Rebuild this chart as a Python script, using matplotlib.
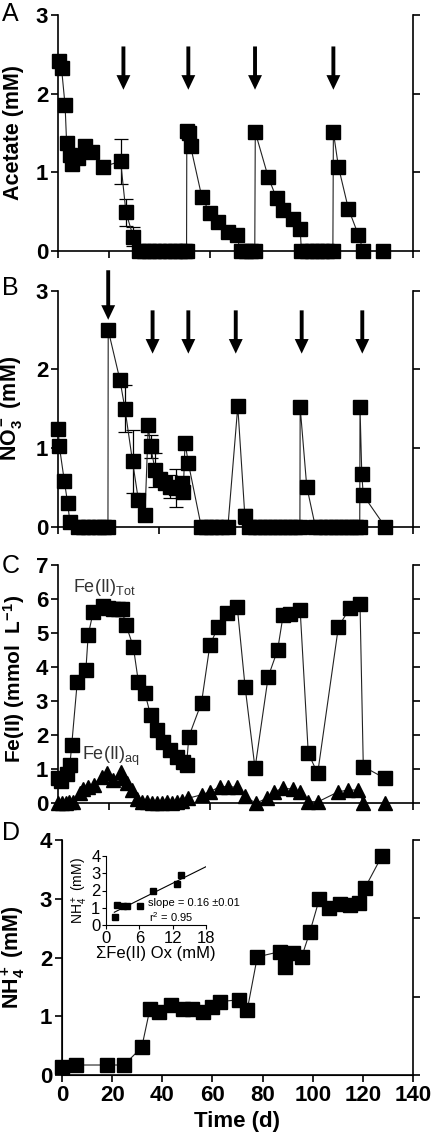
import matplotlib
matplotlib.use('Agg')
import matplotlib.pyplot as plt
import numpy as np

plt.rcParams['font.family'] = ['Liberation Sans', 'DejaVu Sans']
plt.rcParams['mathtext.fontset'] = 'custom'
plt.rcParams['mathtext.rm'] = 'Liberation Sans'
plt.rcParams['mathtext.it'] = 'Liberation Sans:italic'
plt.rcParams['mathtext.bf'] = 'Liberation Sans:bold'
plt.rcParams['mathtext.default'] = 'regular'

# ---------------- data ----------------
# A: acetate
acetate_t = [0.5, 1.4, 2.8, 3.4, 4.7, 5.4, 8.0, 10.6, 13.3, 17.6, 24.7, 26.8, 29.7,
             32.0, 34.0, 36.0, 38.0, 40.0, 42.0, 44.0, 46.0, 48.0, 50.0, 50.7,
             50.8, 51.5, 52.3, 56.7, 59.9, 63.2, 67.2, 70.4,
             72.0, 74.0, 76.0, 77.6, 77.8, 82.9, 86.2, 88.8, 92.8, 95.5,
             96.0, 98.0, 100.0, 102.0, 104.0, 106.0, 108.4, 108.6, 110.6, 114.5, 118.5,
             120.4, 128.3]
acetate_v = [2.41, 2.32, 1.85, 1.37, 1.22, 1.10, 1.18, 1.33, 1.26, 1.07, 1.14, 0.49, 0.18,
             0, 0, 0, 0, 0, 0, 0, 0, 0, 0, 0,
             1.52, 1.50, 1.33, 0.69, 0.48, 0.37, 0.24, 0.20,
             0, 0, 0, 0, 1.51, 0.94, 0.67, 0.52, 0.41, 0.28,
             0, 0, 0, 0, 0, 0, 0, 1.51, 1.07, 0.54, 0.20,
             0, 0]
acetate_err_t = [24.7, 26.8, 29.7]
acetate_err_v = [1.14, 0.49, 0.18]
acetate_err = [0.29, 0.17, 0.12]
acetate_arrow_t = [25.8, 51.4, 77.7, 108.6]
acetate_arrow_top = [2.60, 2.60, 2.60, 2.60]
acetate_arrow_tip = [2.05, 2.05, 2.05, 2.05]

# B: nitrate
nitrate_t = [0.1, 0.5, 2.5, 3.8, 4.7, 8.0, 10.0, 12.0, 14.0, 16.0, 18.0, 19.7, 19.8,
             24.4, 26.4, 29.4, 31.7, 34.3, 35.6, 36.5, 38.3, 40.2, 42.2, 44.2, 46.6,
             48.8, 49.4, 50.1, 51.4, 56.5, 58.5, 60.5, 62.5, 64.5, 67.0, 70.9, 73.7,
             75.5, 77.5, 79.5, 81.5, 83.5, 85.5, 87.5, 89.5, 91.5, 93.5, 95.4, 95.5,
             98.1, 101.5, 103.5, 105.5, 107.5, 109.5, 111.5, 113.5, 115.5, 117.5, 119.0,
             119.1, 119.8, 120.4, 129.0]
nitrate_v = [1.24, 1.03, 0.58, 0.30, 0.06, 0, 0, 0, 0, 0, 0, 0, 2.50,
             1.87, 1.50, 0.83, 0.34, 0.15, 1.29, 1.02, 0.72, 0.61, 0.55, 0.51, 0.49,
             0.55, 0.44, 1.07, 0.81, 0, 0, 0, 0, 0, 0, 1.53, 0.13,
             0, 0, 0, 0, 0, 0, 0, 0, 0, 0, 0, 1.52,
             0.51, 0, 0, 0, 0, 0, 0, 0, 0, 0, 0,
             1.52, 0.67, 0.40, 0]
nitrate_err_t = [26.4, 29.4, 36.5, 38.3, 44.2, 46.6, 73.7]
nitrate_err_v = [1.50, 0.83, 1.02, 0.72, 0.51, 0.49, 0.13]
nitrate_err = [0.30, 0.40, 0.15, 0.22, 0.15, 0.24, 0.09]
nitrate_arrow_t = [19.8, 37.3, 51.4, 70.1, 96.1, 120.0]
nitrate_arrow_top = [3.26, 2.75, 2.75, 2.75, 2.75, 2.75]
nitrate_arrow_tip = [2.63, 2.20, 2.20, 2.20, 2.20, 2.20]

# C: Fe(II)
fetot_t = [0.1, 1.0, 3.4, 4.7, 5.4, 7.6, 11.0, 11.9, 13.9, 17.9, 19.9, 21.8, 23.5, 25.1,
           26.8, 29.7, 31.7, 34.3, 36.5, 38.9, 41.5, 44.2, 46.8, 49.4, 50.7, 51.6,
           56.6, 59.9, 63.2, 66.5, 70.7, 73.8, 77.7, 82.9, 86.6, 88.8, 91.5, 95.5,
           98.7, 102.4, 110.6, 115.1, 119.1, 120.4, 129.0]
fetot_v = [0.73, 0.65, 0.85, 1.13, 1.71, 3.57, 3.92, 4.94, 5.63, 5.80, 5.75, 5.70, 5.72, 5.70,
           5.24, 4.60, 3.57, 3.23, 2.59, 2.15, 1.81, 1.57, 1.37, 1.22, 1.13, 1.96,
           2.96, 4.65, 5.19, 5.58, 5.76, 3.41, 1.03, 3.72, 4.50, 5.53, 5.55, 5.68,
           1.47, 0.88, 5.19, 5.73, 5.85, 1.08, 0.73]
feaq_t = [0.0, 1.5, 3.0, 4.5, 6.0, 8.5, 10.0, 11.9, 14.0, 17.2, 19.2, 21.8, 24.7, 25.5,
          27.1, 29.0, 31.0, 33.0, 35.0, 37.0, 39.0, 41.0, 43.0, 45.0, 47.0, 49.0, 51.4,
          56.6, 59.9, 63.9, 67.2, 70.7, 73.8, 78.1, 82.3, 85.2, 88.6, 92.5, 95.5, 98.7,
          102.7, 110.6, 114.5, 118.5, 120.4, 129.0]
feaq_v = [0.0, 0.02, 0.02, 0.05, 0.05, 0.30, 0.42, 0.49, 0.55, 0.78, 0.88, 0.69, 0.92, 0.75,
          0.59, 0.39, 0.12, 0.05, 0.05, 0.0, 0.02, 0.02, 0.05, 0.02, 0.05, 0.08, 0.15,
          0.25, 0.34, 0.49, 0.49, 0.47, 0.20, 0.0, 0.15, 0.34, 0.44, 0.42, 0.34, 0.05,
          0.05, 0.34, 0.39, 0.39, 0.0, 0.0]

# D: ammonium
nh4_t = [0.0, 5.6, 17.8, 24.7, 31.8, 35.1, 38.8, 43.4, 48.4, 51.7, 56.1, 59.7, 63.0,
         70.7, 73.9, 77.9, 86.9, 88.9, 92.2, 95.6, 98.9, 102.6, 106.6, 110.9, 114.9,
         118.6, 120.9, 127.5]
nh4_v = [0.13, 0.17, 0.17, 0.17, 0.47, 1.13, 1.08, 1.19, 1.13, 1.13, 1.07, 1.16, 1.25,
         1.28, 1.11, 2.01, 2.10, 1.84, 2.07, 2.01, 2.44, 2.99, 2.84, 2.91, 2.89,
         2.92, 3.19, 3.72]

# D inset: NH4+ vs cumulative Fe(II) oxidized
inset_fe = [1.6, 2.0, 3.1, 3.7, 6.2, 8.5, 12.8, 13.5]
inset_nh4 = [0.47, 1.14, 1.10, 1.12, 1.12, 1.96, 2.38, 2.91]
fit_slope = 0.16
fit_intercept = 0.50
fit_range = [1.5, 18.0]

W, H = 433, 1139
fig = plt.figure(figsize=(W / 100, H / 100), dpi=100)


def px_axes(left, top, right, bottom):
    return fig.add_axes([left / W, 1 - bottom / H, (right - left) / W, (bottom - top) / H])


def style(ax, yticks, xticks, right=True):
    ax.spines['top'].set_visible(False)
    for s in ['left', 'bottom', 'right']:
        ax.spines[s].set_linewidth(1.2)
    ax.spines['right'].set_visible(right)
    ax.tick_params(direction='out', length=5, width=1.2, right=right,
                   labelsize=16, pad=2)
    ax.set_yticks(yticks)
    ax.set_xticks(xticks)
    for lab in ax.get_yticklabels() + ax.get_xticklabels():
        lab.set_fontweight('bold')


line_kw = dict(color='#222222', lw=0.8, marker='s', ms=9.5, mfc='black', mec='black',
               clip_on=False, zorder=3)
err_kw = dict(fmt='none', ecolor='black', elinewidth=0.9, capsize=5, capthick=0.9,
              clip_on=False, zorder=2)
arrow_kw = dict(width=2.8, headwidth=10, headlength=10.5, facecolor='black',
                edgecolor='black', lw=0, clip_on=False)


def draw_arrows(ax, ts, tops, tips):
    for t, top, tip in zip(ts, tops, tips):
        ax.annotate('', xy=(t, tip), xytext=(t, top), arrowprops=arrow_kw,
                    annotation_clip=False)


# ---------- A ----------
axA = px_axes(58, 15, 413, 251)
axA.plot(acetate_t, acetate_v, **line_kw)
axA.errorbar(acetate_err_t, acetate_err_v, yerr=acetate_err, **err_kw)
draw_arrows(axA, acetate_arrow_t, acetate_arrow_top, acetate_arrow_tip)
axA.set_xlim(0, 140)
axA.set_ylim(0, 3)
style(axA, [0, 1, 2, 3], [0, 20, 60, 140])
axA.set_xticklabels([])
axA.set_ylabel('Acetate (mM)', fontsize=15.5, fontweight='bold')
axA.yaxis.set_label_coords(-0.095, 0.5)

# ---------- B ----------
axB = px_axes(58, 290.7, 413, 526.7)
axB.plot(nitrate_t, nitrate_v, **line_kw)
axB.errorbar(nitrate_err_t, nitrate_err_v, yerr=nitrate_err, **err_kw)
draw_arrows(axB, nitrate_arrow_t, nitrate_arrow_top, nitrate_arrow_tip)
axB.set_xlim(0, 140)
axB.set_ylim(0, 3)
style(axB, [0, 1, 2, 3], [0, 40, 140])
axB.set_xticklabels([])
axB.set_ylabel('NO$_3^-$ (mM)', fontsize=15.5, fontweight='bold')
axB.yaxis.set_label_coords(-0.095, 0.5)

# ---------- C ----------
axC = px_axes(58, 565, 413, 803.3)
axC.plot(fetot_t, fetot_v, **line_kw)
tri_kw = dict(line_kw)
tri_kw['marker'] = '^'
tri_kw['ms'] = 10
axC.plot(feaq_t, feaq_v, **tri_kw)
axC.set_xlim(0, 140)
axC.set_ylim(0, 7)
style(axC, list(range(8)), [0, 20, 60, 140])
axC.set_xticklabels([])
axC.set_ylabel('Fe(II) (mmol  L$^{-1}$)', fontsize=15, fontweight='bold')
axC.yaxis.set_label_coords(-0.088, 0.52)
axC.text(5.9, 6.2, r'Fe(II)$_{Tot}$', fontsize=13, color='#333333')
axC.text(9.5, 1.27, r'Fe(II)$_{aq}$', fontsize=13, color='#333333')

# ---------- D ----------
axD = px_axes(62, 840, 413, 1075)
axD.plot(nh4_t, nh4_v, **line_kw)
axD.set_xlim(0, 140)
axD.set_ylim(0, 4)
style(axD, [0, 1, 2, 3, 4], list(range(0, 141, 20)), right=False)
axD.set_ylabel('NH$_4^+$ (mM)', fontsize=15.5, fontweight='bold')
axD.yaxis.set_label_coords(-0.10, 0.5)
axD.set_xlabel('Time (d)', fontsize=16, fontweight='bold', labelpad=4)
twin = axD.twinx()
twin.set_ylim(0, 3)
twin.set_yticks([0, 1, 2, 3])
twin.set_yticklabels([])
twin.spines['top'].set_visible(False)
twin.spines['right'].set_linewidth(1.2)
twin.tick_params(direction='out', length=5, width=1.2)

# inset
ins = px_axes(106, 856, 206, 925)
ins.plot(inset_fe, inset_nh4, 's', ms=4.5, color='black', clip_on=False)
fit_x = np.array(fit_range)
ins.plot(fit_x, fit_slope * fit_x + fit_intercept, color='black', lw=0.8)
ins.set_xlim(0, 18)
ins.set_ylim(0, 4)
ins.set_xticks([0, 6, 12, 18])
ins.set_yticks([0, 1, 2, 3, 4])
ins.spines['top'].set_visible(False)
ins.spines['right'].set_visible(False)
ins.tick_params(direction='out', length=3, width=0.8, labelsize=12, pad=1)
ins.set_xlabel('ΣFe(II) Ox (mM)', fontsize=12, labelpad=0)
ins.set_ylabel('NH$_4^+$ (mM)', fontsize=10, labelpad=1)
ins.text(7.6, 1.3, 'slope = 0.16 ±0.01', fontsize=8, va='center', clip_on=False)
ins.text(7.8, 0.45, 'r$^2$ = 0.95', fontsize=8, va='center', clip_on=False)

# panel letters
for letter, ytop in zip(['A', 'B', 'C', 'D'], [2, 276, 554, 821]):
    fig.text(2 / W, 1 - ytop / H, letter, fontsize=18, va='top', ha='left')

fig.savefig('out.png', dpi=100)
